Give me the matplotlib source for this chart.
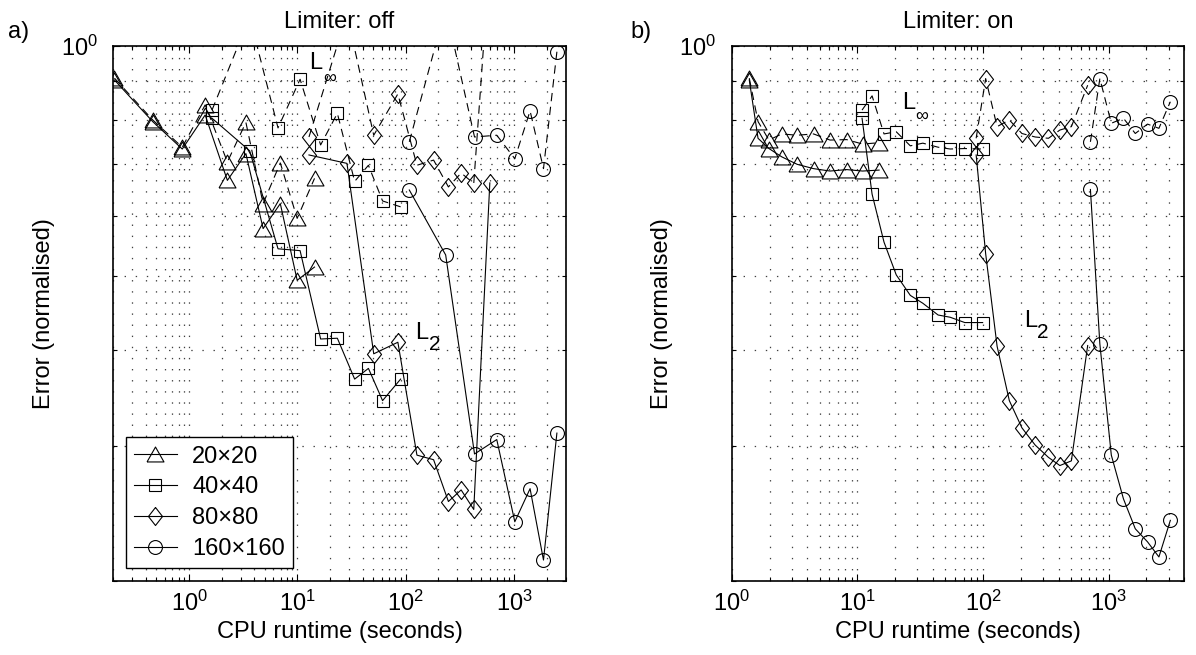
import matplotlib
matplotlib.use('Agg')
import matplotlib.pyplot as plt
from matplotlib.ticker import FixedLocator, FixedFormatter, NullFormatter

plt.rcParams['font.family'] = ['Liberation Sans', 'DejaVu Sans']
plt.rcParams['mathtext.fontset'] = 'custom'
plt.rcParams['mathtext.rm'] = 'Liberation Sans'
plt.rcParams['mathtext.it'] = 'Liberation Sans'
plt.rcParams['mathtext.bf'] = 'Liberation Sans'
plt.rcParams['mathtext.default'] = 'regular'
plt.rcParams['lines.scale_dashes'] = False

# ---------------- data: panel a (Limiter: off) ----------------
a_t20 = [0.205, 0.462, 0.866, 1.41, 2.26, 3.35, 4.83, 6.96, 9.96, 14.4]
a_l2_20 = [0.902, 0.796, 0.733, 0.812, 0.667, 0.723, 0.577, 0.622, 0.494, 0.514]
a_li_20 = [0.907, 0.800, 0.737, 0.837, 0.705, 0.794, 0.622, 0.703, 0.595, 0.671]

a_t40 = [1.63, 3.63, 6.63, 10.6, 16.4, 23.4, 33.8, 45.3, 61.2, 89.8]
a_l2_40 = [0.804, 0.729, 0.543, 0.540, 0.414, 0.415, 0.367, 0.379, 0.344, 0.367]
a_li_40 = [0.824, 1.09, 0.781, 0.904, 0.742, 0.816, 0.665, 0.698, 0.627, 0.616]

a_t80 = [12.8, 28.7, 50.7, 84.7, 127, 181, 248, 325, 425, 598]
a_l2_80 = [0.720, 0.702, 0.396, 0.410, 0.292, 0.288, 0.254, 0.263, 0.248, 0.662]
a_li_80 = [0.760, 1.10, 0.764, 0.865, 0.698, 0.709, 0.654, 0.682, 0.661, 1.30]

a_t160 = [108, 234, 432, 693, 1017, 1407, 1871, 2488]
a_l2_160 = [0.648, 0.533, 0.293, 0.306, 0.239, 0.264, 0.213, 0.312]
a_li_160 = [0.749, 1.12, 0.760, 0.764, 0.712, 0.822, 0.691, 0.982]

# ---------------- data: panel b (Limiter: on) ----------------
b_t20 = [1.38, 1.62, 1.98, 2.5, 3.32, 4.48, 6.06, 8.23, 11.0, 14.9]
b_l2_20 = [0.902, 0.757, 0.734, 0.716, 0.700, 0.691, 0.686, 0.689, 0.686, 0.688]
b_li_20 = [0.907, 0.796, 0.753, 0.767, 0.764, 0.767, 0.753, 0.754, 0.744, 0.747]

b_t40 = [10.9, 13.1, 16.3, 20.4, 26.4, 33.2, 43.9, 54.8, 71.6, 99.3]
b_l2_40 = [0.804, 0.640, 0.554, 0.502, 0.472, 0.461, 0.445, 0.442, 0.435, 0.435]
b_li_40 = [0.824, 0.860, 0.767, 0.772, 0.740, 0.746, 0.737, 0.733, 0.734, 0.733]

b_t80 = [88.2, 105, 129.5, 162, 204, 260, 332, 409, 505, 681]
b_l2_80 = [0.720, 0.535, 0.405, 0.344, 0.317, 0.301, 0.290, 0.283, 0.287, 0.406]
b_li_80 = [0.757, 0.906, 0.784, 0.800, 0.768, 0.760, 0.757, 0.776, 0.784, 0.888]

b_t160 = [716, 851, 1050, 1312, 1629, 2038, 2512, 3097]
b_l2_160 = [0.649, 0.408, 0.292, 0.256, 0.234, 0.225, 0.215, 0.240]
b_li_160 = [0.749, 0.906, 0.792, 0.804, 0.768, 0.790, 0.780, 0.845]

grid_labels = ['20\u00d720', '40\u00d740', '80\u00d780', '160\u00d7160']
x_major = [1, 10, 100, 1000]
x_major_labels = [r'$10^{0}$', r'$10^{1}$', r'$10^{2}$', r'$10^{3}$']
y_major = [1.0]
y_major_labels = [r'$10^{0}$']
y_minor = [0.2, 0.3, 0.4, 0.5, 0.6, 0.7, 0.8, 0.9]

# ---------------- styling ----------------
W, H = 1196, 655
FS = 17
tri = [(-1, -0.88), (1, -0.88), (0, 0.88), (-1, -0.88)]
dia = [(0, 1), (0.78, 0), (0, -1), (-0.78, 0), (0, 1)]
markers = [(tri, 12.2), ('s', 8.8), (dia, 13), ('o', 10)]
dash = (0, (6, 4))
grid_ls = (0, (1, 7))

fig = plt.figure(figsize=(W / 100, H / 100), dpi=100)


def make_axes(left_px, right_px, xlim):
    ax = fig.add_axes([left_px / W, 1 - 581 / H, (right_px - left_px) / W, (581 - 45.7) / H])
    ax.set_xscale('log')
    ax.set_yscale('log')
    ax.set_xlim(*xlim)
    ax.set_ylim(0.2, 1.0)
    ax.xaxis.set_major_locator(FixedLocator(x_major))
    ax.xaxis.set_major_formatter(FixedFormatter(x_major_labels))
    ax.xaxis.set_minor_formatter(NullFormatter())
    ax.yaxis.set_major_locator(FixedLocator(y_major))
    ax.yaxis.set_major_formatter(FixedFormatter(y_major_labels))
    ax.yaxis.set_minor_locator(FixedLocator(y_minor))
    ax.yaxis.set_minor_formatter(NullFormatter())
    ax.tick_params(which='both', direction='in', top=True, right=True, width=0.8, labelsize=FS)
    ax.tick_params(which='major', length=5)
    ax.tick_params(which='minor', length=3)
    ax.tick_params(axis='x', which='major', pad=7)
    ax.tick_params(axis='y', which='major', pad=11)
    ax.grid(True, which='both', linestyle=grid_ls, linewidth=0.9, color='0.25')
    ax.set_axisbelow(True)
    for s in ax.spines.values():
        s.set_linewidth(1.2)
    ax.set_xlabel('CPU runtime (seconds)', fontsize=FS, labelpad=4)
    ax.set_ylabel('Error (normalised)', fontsize=FS, labelpad=4.5)
    return ax


def draw(ax, series):
    handles = []
    for (t, l2, li), (mk, ms) in zip(series, markers):
        h, = ax.plot(t, l2, '-', color='k', lw=0.8, marker=mk, ms=ms,
                     mfc='none', mec='k', mew=0.8)
        ax.plot(t, li, linestyle=dash, color='k', lw=0.8, marker=mk, ms=ms,
                mfc='none', mec='k', mew=0.8)
        handles.append(h)
    return handles


axa = make_axes(113.3, 565.7, (0.2, 3000))
ha = draw(axa, [(a_t20, a_l2_20, a_li_20), (a_t40, a_l2_40, a_li_40),
                (a_t80, a_l2_80, a_li_80), (a_t160, a_l2_160, a_li_160)])
axa.set_title('Limiter: off', fontsize=FS, pad=12.5)

axb = make_axes(731.7, 1184.3, (1, 4000))
draw(axb, [(b_t20, b_l2_20, b_li_20), (b_t40, b_l2_40, b_li_40),
           (b_t80, b_l2_80, b_li_80), (b_t160, b_l2_160, b_li_160)])
axb.set_title('Limiter: on', fontsize=FS, pad=12.5)

leg = axa.legend(ha, grid_labels, loc='lower left', bbox_to_anchor=(0.0274, 0.0237),
                 borderaxespad=0, frameon=True, fancybox=False, edgecolor='k',
                 framealpha=1, fontsize=FS, handlelength=1.8, handletextpad=0.65,
                 labelspacing=0.37, borderpad=0.36)
leg.get_frame().set_linewidth(1.0)

# panel letters
fig.text(8 / W, 1 - 38 / H, 'a)', fontsize=FS, ha='left', va='baseline')
fig.text(630 / W, 1 - 38 / H, 'b)', fontsize=FS, ha='left', va='baseline')


def ftext(x, y, s, size):
    fig.text(x / W, 1 - y / H, s, fontsize=size, ha='center', va='center')


# norm annotations
ftext(316, 63, 'L', FS)
ftext(330, 78, '\u221e', 13)
ftext(422, 333, 'L', FS)
ftext(435, 344, '2', 15)
ftext(909, 103, 'L', FS)
ftext(922, 116, '\u221e', 13)
ftext(1031, 321, 'L', FS)
ftext(1043, 332, '2', 15)

fig.savefig('out.png', dpi=100)
